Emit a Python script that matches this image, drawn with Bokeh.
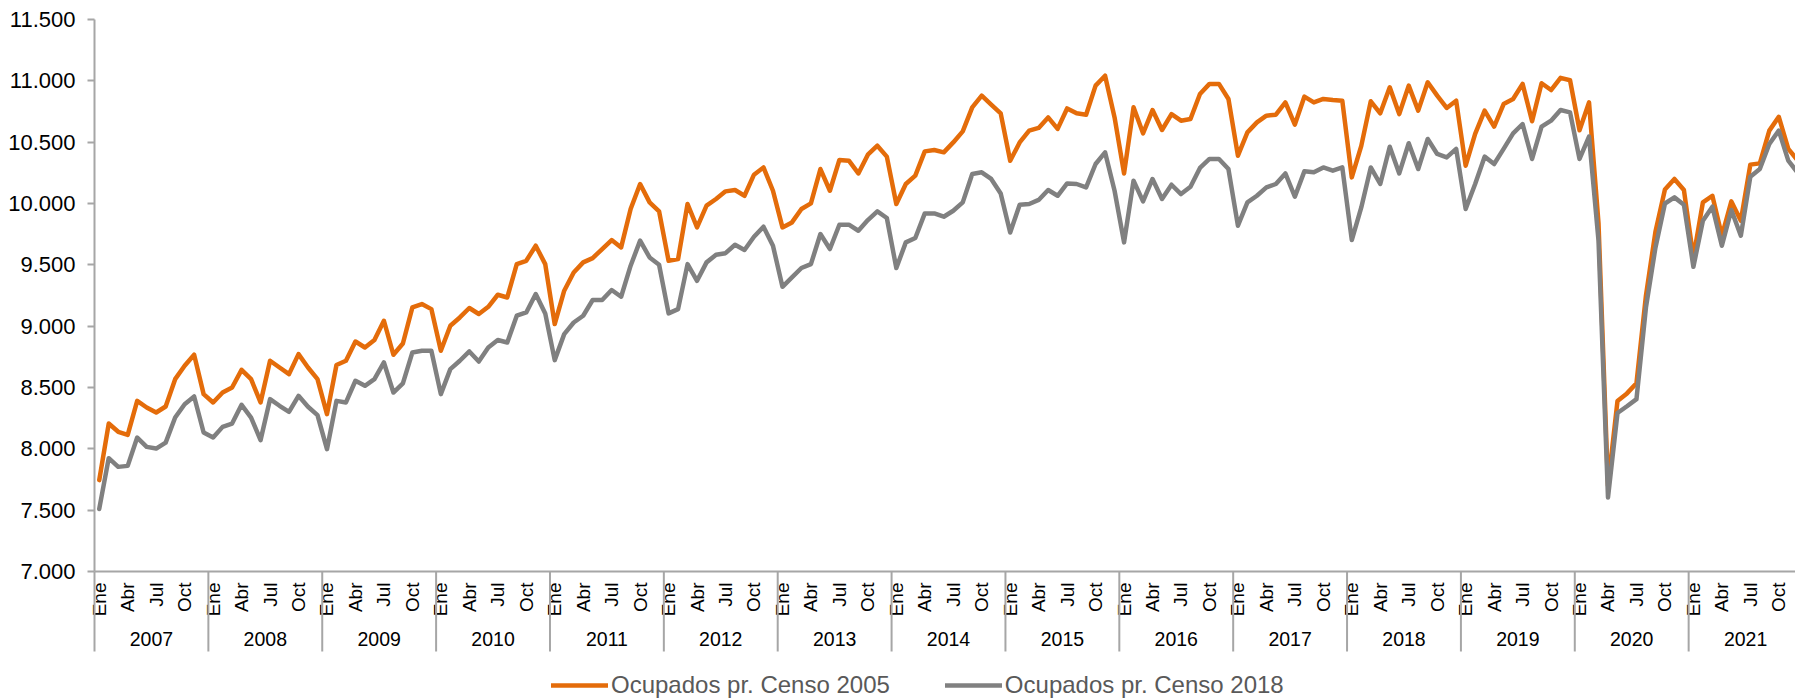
import numpy as np
from bokeh.plotting import figure
from bokeh.layouts import column
from bokeh.models import FixedTicker, Legend, LegendItem, ColumnDataSource
from bokeh.core.properties import value
from bokeh.embed import file_html
from bokeh.resources import INLINE

# ---------------- data ----------------
years = [str(y) for y in range(2007, 2022)]
month_names = ["Ene", "Feb", "Mar", "Abr", "May", "Jun",
               "Jul", "Ago", "Sep", "Oct", "Nov", "Dic"]
shown_months = ["Ene", "Abr", "Jul", "Oct"]
series_names = ["Ocupados pr. Censo 2005", "Ocupados pr. Censo 2018"]

censo_2005 = [
    7745, 8206, 8139, 8114, 8391, 8337, 8296, 8345, 8568, 8677, 8767, 8446,        # 2007
    8378, 8459, 8500, 8644, 8568, 8378, 8718, 8663, 8609, 8772, 8663, 8568,        # 2008
    8283, 8683, 8718, 8875, 8826, 8887, 9044, 8767, 8859, 9153, 9180, 9139,        # 2009
    8800, 9003, 9071, 9148, 9099, 9158, 9256, 9234, 9506, 9533, 9656, 9506,        # 2010
    9017, 9289, 9438, 9520, 9555, 9629, 9702, 9642, 9955, 10159, 10009, 9936,      # 2011
    9533, 9547, 9996, 9805, 9982, 10037, 10099, 10110, 10063, 10235, 10294, 10104,  # 2012
    9805, 9846, 9955, 10001, 10281, 10104, 10355, 10349, 10245, 10398, 10471, 10382,  # 2013
    9996, 10159, 10227, 10425, 10436, 10417, 10498, 10588, 10784, 10879, 10806, 10735,  # 2014
    10349, 10498, 10594, 10616, 10702, 10608, 10775, 10735, 10724, 10961, 11042, 10702,  # 2015
    10245, 10784, 10572, 10762, 10599, 10729, 10675, 10689, 10893, 10975, 10975, 10852,  # 2016
    10390, 10580, 10661, 10716, 10724, 10824, 10643, 10871, 10824, 10852, 10844, 10838,  # 2017
    10213, 10470, 10833, 10735, 10947, 10729, 10961, 10757, 10988, 10879, 10779, 10838,  # 2018
    10308, 10567, 10757, 10627, 10811, 10852, 10975, 10670, 10980, 10925, 11024, 11005,  # 2019
    10597, 10824, 9840, 7700, 8390, 8452, 8535, 9250, 9770, 10115, 10200, 10110,    # 2020
    9560, 10009, 10063, 9737, 10017, 9860, 10317, 10327, 10594, 10707, 10445, 10350,  # 2021
]

censo_2018 = [
    7510, 7924, 7853, 7861, 8092, 8016, 8002, 8051, 8255, 8364, 8427, 8133,        # 2007
    8092, 8179, 8206, 8359, 8255, 8071, 8405, 8351, 8302, 8432, 8343, 8275,        # 2008
    7997, 8391, 8378, 8555, 8514, 8568, 8704, 8459, 8533, 8786, 8800, 8800,        # 2009
    8446, 8650, 8718, 8794, 8712, 8826, 8887, 8867, 9085, 9112, 9262, 9104,        # 2010
    8723, 8935, 9030, 9085, 9213, 9213, 9295, 9240, 9493, 9697, 9560, 9501,        # 2011
    9104, 9139, 9506, 9370, 9520, 9582, 9595, 9664, 9621, 9729, 9811, 9656,        # 2012
    9321, 9397, 9474, 9506, 9751, 9629, 9827, 9827, 9778, 9865, 9936, 9882,        # 2013
    9474, 9683, 9719, 9919, 9919, 9892, 9941, 10009, 10241, 10254, 10200, 10082,   # 2014
    9764, 9990, 9996, 10029, 10110, 10063, 10164, 10159, 10131, 10322, 10417, 10104,  # 2015
    9683, 10186, 10017, 10200, 10037, 10153, 10077, 10137, 10290, 10363, 10363, 10281,  # 2016
    9819, 10009, 10063, 10131, 10159, 10245, 10055, 10262, 10254, 10294, 10267, 10294,  # 2017
    9702, 9968, 10294, 10159, 10463, 10245, 10491, 10281, 10526, 10404, 10376, 10445,  # 2018
    9955, 10159, 10382, 10322, 10445, 10572, 10648, 10363, 10627, 10675, 10762, 10743,  # 2019
    10363, 10545, 9697, 7603, 8292, 8347, 8405, 9153, 9640, 10000, 10050, 9990,    # 2020
    9484, 9860, 9974, 9656, 9947, 9737, 10219, 10281, 10485, 10594, 10349, 10250,  # 2021
]

y_ticks = [7000, 7500, 8000, 8500, 9000, 9500, 10000, 10500, 11000, 11500]
y_tick_labels = ["7.000", "7.500", "8.000", "8.500", "9.000",
                 "9.500", "10.000", "10.500", "11.000", "11.500"]

# ---------------- styling ----------------
ORANGE = "#E46C0A"
GRAY = "#808080"
AXIS = "#A6A6A6"
FONT = "Liberation Sans"
W = 1795
H_MAIN = 665
H_LEG = 34
FRAME_LEFT = 94

n = len(censo_2005)
x = np.arange(n)
y0 = y_ticks[0]

p = figure(width=W, height=H_MAIN,
           x_range=(-0.5, 178.76), y_range=(y_ticks[0], y_ticks[-1]),
           output_backend="svg", toolbar_location=None,
           min_border_left=FRAME_LEFT, min_border_right=0,
           min_border_top=19, min_border_bottom=H_MAIN - 571)
p.grid.visible = False
p.outline_line_color = None

# y axis
p.yaxis.ticker = FixedTicker(ticks=y_ticks)
p.yaxis.major_label_overrides = {t: l for t, l in zip(y_ticks, y_tick_labels)}
p.yaxis.axis_line_color = AXIS
p.yaxis.axis_line_width = 2
p.yaxis.major_tick_line_color = AXIS
p.yaxis.major_tick_line_width = 2
p.yaxis.major_tick_out = 7
p.yaxis.major_tick_in = 0
p.yaxis.minor_tick_line_color = None
p.yaxis.major_label_standoff = 12
p.yaxis.major_label_text_font = FONT
p.yaxis.major_label_text_font_size = "22px"
p.yaxis.major_label_text_color = "black"

# x axis: just the line; labels drawn as text
p.xaxis.ticker = FixedTicker(ticks=[])
p.xaxis.axis_line_color = AXIS
p.xaxis.axis_line_width = 2
p.xaxis.major_tick_line_color = None
p.xaxis.minor_tick_line_color = None

# series
r1 = p.line(x, censo_2005, line_color=ORANGE, line_width=4.5, line_join="round", line_cap="round")
r2 = p.line(x, censo_2018, line_color=GRAY, line_width=4.5, line_join="round", line_cap="round")

# month labels (rotated)
mx, mt = [], []
for yi in range(len(years)):
    for mi, m in enumerate(month_names):
        if m in shown_months:
            mx.append(yi * 12 + mi)
            mt.append(m)
msrc = ColumnDataSource(dict(x=mx, y=[y0] * len(mx), t=mt))
p.text(x="x", y="y", text="t", source=msrc, angle=np.pi / 2,
       text_align="right", text_baseline="middle", y_offset=11,
       text_font=value(FONT), text_font_size="19px", text_color="black",
       level="overlay")

# year labels
yx = [yi * 12 + 5.5 for yi in range(len(years))]
ysrc = ColumnDataSource(dict(x=yx, y=[y0] * len(yx), t=years))
p.text(x="x", y="y", text="t", source=ysrc,
       text_align="center", text_baseline="middle", y_offset=67,
       text_font=value(FONT), text_font_size="19.5px", text_color="black",
       level="overlay")

# year separators below the axis
sx = [yi * 12 - 0.5 for yi in range(len(years) + 1)]
p.ray(x=sx, y=[y0] * len(sx), length=80, length_units="screen",
      angle=-np.pi / 2, line_color=AXIS, line_width=2, level="overlay")

# ---------------- legend (own strip below the chart) ----------------
pl = figure(width=W, height=H_LEG, x_range=(0, 1), y_range=(0, 1),
            output_backend="svg", toolbar_location=None,
            min_border_left=0, min_border_right=0,
            min_border_top=0, min_border_bottom=0)
pl.axis.visible = False
pl.grid.visible = False
pl.outline_line_color = None
# sample renderers kept outside the visible range; only used for the legend keys
l1 = pl.line([5, 6], [5, 5], line_color=ORANGE, line_width=4.5, line_cap="round")
l2 = pl.line([5, 6], [5, 5], line_color=GRAY, line_width=4.5, line_cap="round")
legend = Legend(items=[LegendItem(label=series_names[0], renderers=[l1]),
                       LegendItem(label=series_names[1], renderers=[l2])],
                orientation="horizontal", location=(551 - FRAME_LEFT, 0),
                padding=0, margin=0, spacing=55, glyph_width=57,
                label_standoff=3,
                label_text_font=FONT, label_text_font_size="24px",
                label_text_color="#595959",
                background_fill_alpha=0, border_line_color=None)
pl.add_layout(legend)

layout = column(p, pl, spacing=0)
open("out.html", "w").write(file_html(layout, INLINE))
